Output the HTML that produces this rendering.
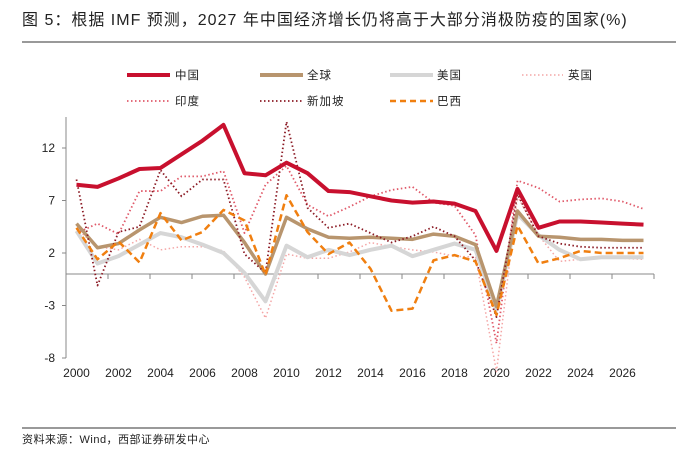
<!DOCTYPE html>
<html><head><meta charset="utf-8"><style>
body{margin:0;background:#fff;width:676px;height:451px;overflow:hidden}
svg text{font-family:"Liberation Sans","Noto Sans CJK SC",sans-serif}
</style></head><body>
<svg id="s" width="676" height="451" xmlns="http://www.w3.org/2000/svg">
<text x="22" y="25" font-size="16" letter-spacing="1" fill="#222">图 5：根据 IMF 预测，2027 年中国经济增长仍将高于大部分消极防疫的国家(%)</text>
<line x1="22" y1="42" x2="676" y2="42" stroke="#333" stroke-width="1"/>
<g font-size="11.5" fill="#222" letter-spacing="1">
<line x1="127" y1="75" x2="170" y2="75" stroke="#c8102e" stroke-width="4"/><text x="175" y="79">中国</text>
<line x1="260" y1="75" x2="303" y2="75" stroke="#b8956e" stroke-width="4"/><text x="307" y="79">全球</text>
<line x1="390" y1="75" x2="433" y2="75" stroke="#d6d6d6" stroke-width="4"/><text x="437" y="79">美国</text>
<line x1="522" y1="75" x2="563" y2="75" stroke="#f4a6a6" stroke-width="1.5" stroke-dasharray="1.5,2.5"/><text x="568" y="79">英国</text>
<line x1="127" y1="101" x2="170" y2="101" stroke="#e05a6a" stroke-width="1.8" stroke-dasharray="1.5,2.5"/><text x="175" y="105">印度</text>
<line x1="260" y1="101" x2="303" y2="101" stroke="#8b1a24" stroke-width="1.8" stroke-dasharray="1.5,2.5"/><text x="307" y="105">新加坡</text>
<line x1="390" y1="101" x2="433" y2="101" stroke="#f07f10" stroke-width="2.5" stroke-dasharray="6,4"/><text x="437" y="105">巴西</text>
</g>
<g id="ax"></g>
<line x1="22" y1="428" x2="676" y2="428" stroke="#333" stroke-width="1"/>
<text x="22" y="443" font-size="11" fill="#222" letter-spacing="0.5">资料来源：Wind，西部证券研发中心</text>
</svg>
<script>
var ns="http://www.w3.org/2000/svg",g=document.getElementById('ax');
function el(t,a,txt){var e=document.createElementNS(ns,t);for(var k in a)e.setAttribute(k,a[k]);if(txt)e.textContent=txt;g.appendChild(e);return e;}
function X(i){return 76.5+21*i}function Y(v){return 253-(v-2)*10.5}
el('line',{x1:66,y1:117,x2:66,y2:358,stroke:'#888'});
[12,7,2,-3,-8].forEach(function(v){el('line',{x1:62,y1:Y(v),x2:66,y2:Y(v),stroke:'#888'});el('text',{x:55,y:Y(v)+4,'text-anchor':'end','font-size':12,fill:'#222'},String(v));});
el('line',{x1:66,y1:274,x2:654,y2:274,stroke:'#888'});
for(var k=0;k<=14;k++){var tx=66+42*k;el('line',{x1:tx,y1:274,x2:tx,y2:279,stroke:'#888'});}
for(var i=0;i<28;i+=2)el('text',{x:X(i),y:377,'text-anchor':'middle','font-size':12,fill:'#222'},String(2000+i));
var S=[
[[4.3,2.6,2.3,3.3,2.3,2.6,2.6,2.2,-0.3,-4.2,1.9,1.5,1.5,2.1,3.0,2.6,2.3,2.1,1.7,1.6,-9.3,7.4,3.7,1.2,1.4,1.5,1.5,1.4],'#f4a6a6',1.5,'1.5,2.5'],
[[3.9,4.8,3.8,7.9,7.9,9.3,9.3,9.8,3.9,8.5,10.3,6.6,5.5,6.4,7.4,8.0,8.3,6.8,6.5,3.7,-6.6,8.9,8.2,6.9,7.1,7.2,6.9,6.2],'#e05a6a',1.8,'1.5,2.5'],
[[4.1,1.0,1.7,2.8,3.9,3.5,2.8,2.0,0.1,-2.6,2.7,1.6,2.3,1.8,2.3,2.7,1.7,2.3,2.9,2.3,-3.4,5.7,3.7,2.3,1.4,1.6,1.6,1.6],'#d6d6d6',4,''],
[[4.8,2.5,2.9,4.2,5.4,4.9,5.5,5.6,3.0,0.0,5.4,4.3,3.5,3.4,3.5,3.4,3.3,3.8,3.6,2.8,-3.1,6.0,3.6,3.5,3.3,3.3,3.2,3.2],'#b8956e',3.5,''],
[[9.0,-1.1,4.0,4.5,9.9,7.4,9.0,9.0,1.9,0.1,14.5,6.3,4.4,4.8,3.9,3.0,3.6,4.5,3.6,1.3,-4.1,7.6,3.6,2.9,2.6,2.5,2.5,2.5],'#8b1a24',1.8,'1.5,2.5'],
[[4.4,1.4,3.1,1.1,5.8,3.2,4.0,6.1,5.1,-0.1,7.5,4.0,1.9,3.0,0.5,-3.5,-3.3,1.3,1.8,1.2,-3.9,4.6,1.0,1.5,2.2,2.0,2.0,2.0],'#f07f10',2.5,'7,4'],
[[8.5,8.3,9.1,10.0,10.1,11.4,12.7,14.2,9.6,9.4,10.6,9.6,7.9,7.8,7.4,7.0,6.8,6.9,6.7,6.0,2.2,8.1,4.4,5.0,5.0,4.9,4.8,4.7],'#c8102e',4,'']];
S.forEach(function(s){var p=s[0].map(function(v,i){return X(i)+','+Y(v)}).join(' ');
var a={points:p,fill:'none',stroke:s[1],'stroke-width':s[2],'stroke-linejoin':'round'};if(s[3])a['stroke-dasharray']=s[3];el('polyline',a);});
</script>
</body></html>
